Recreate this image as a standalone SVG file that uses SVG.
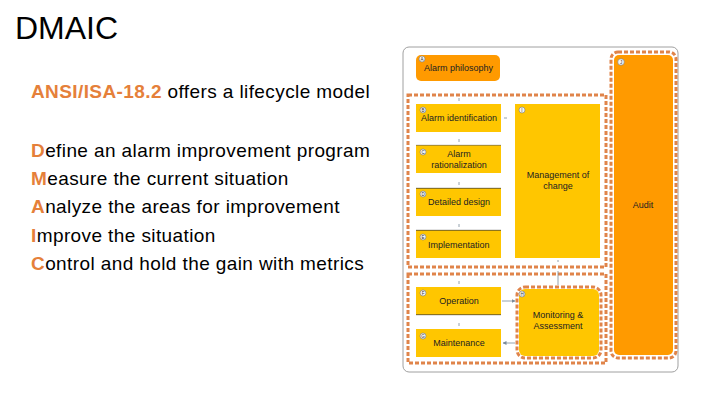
<svg xmlns="http://www.w3.org/2000/svg" width="720" height="405" viewBox="0 0 720 405">
<defs>
<style>
.t{font-family:"Liberation Sans",Arial,sans-serif;}
.big{font-size:19px;letter-spacing:0.4px;fill:#000;}
.hl{fill:#E5803A;font-weight:bold;}
.lbl{font-family:"Liberation Sans",Arial,sans-serif;font-size:9px;fill:#222;}
.ltr{font-family:"Liberation Sans",Arial,sans-serif;font-size:4.5px;fill:#333;text-anchor:middle;}
.yel{fill:#FFC600;}
.org{fill:#FF9A00;}
.dash{fill:none;stroke:#E0844A;stroke-width:3;stroke-dasharray:4 2;}
.circ{fill:#F4F4F4;stroke:#777;stroke-width:0.6;}
.con{stroke:#7A8A99;stroke-width:0.8;fill:none;}
</style>
<marker id="ah" markerWidth="4" markerHeight="4" refX="3.5" refY="2" orient="auto" markerUnits="userSpaceOnUse">
<path d="M0,0 L4,2 L0,4 z" fill="#7A8A99"/>
</marker>
</defs>
<rect width="720" height="405" fill="#fff"/>
<g id="title"><text class="t" x="15" y="39" font-size="32" fill="#000">DMAIC</text></g>
<g id="text-block" class="t">
<text class="big" x="31" y="98"><tspan class="hl">ANSI/ISA-18.2</tspan> offers a lifecycle model</text>
<text class="big" x="31" y="157"><tspan class="hl">D</tspan>efine an alarm improvement program</text>
<text class="big" x="31" y="185"><tspan class="hl">M</tspan>easure the current situation</text>
<text class="big" x="31" y="213"><tspan class="hl">A</tspan>nalyze the areas for improvement</text>
<text class="big" x="31" y="242"><tspan class="hl">I</tspan>mprove the situation</text>
<text class="big" x="31" y="270"><tspan class="hl">C</tspan>ontrol and hold the gain with metrics</text>
</g>
<g id="frame"><rect x="403" y="47" width="275" height="325" rx="6" fill="#fff" stroke="#A0A0A0" stroke-width="1"/></g>
<g id="audit">
<rect class="dash" x="611" y="52" width="65" height="306" rx="7"/>
<rect class="org" x="614" y="55" width="59" height="300" rx="5"/>
<circle class="circ" cx="621" cy="62" r="3.3"/><text class="ltr" x="621" y="63.6">J</text>
<text class="lbl" x="643" y="208" text-anchor="middle">Audit</text>
</g>
<g id="philosophy">
<rect class="org" x="416" y="55" width="84" height="26" rx="5"/>
<circle class="circ" cx="422" cy="59" r="3"/><text class="ltr" x="422" y="60.6">A</text>
<text class="lbl" x="424" y="71">Alarm philosophy</text>
</g>
<g id="group1"><rect class="dash" x="408" y="95" width="198" height="172"/></g>
<g id="group2"><rect class="dash" x="408" y="274" width="198" height="89"/></g>
<g id="identification">
<rect class="yel" x="416" y="104" width="85" height="28"/>
<circle class="circ" cx="423" cy="110" r="3"/><text class="ltr" x="423" y="111.6">B</text>
<text class="lbl" x="421" y="121">Alarm identification</text>
</g>
<g id="rationalization">
<rect class="yel" x="416" y="145" width="85" height="28"/>
<line x1="416" y1="145.3" x2="501" y2="145.3" stroke="#555" stroke-width="0.6"/>
<circle class="circ" cx="423" cy="152" r="3"/><text class="ltr" x="423" y="153.6">C</text>
<text class="lbl" x="459" y="157" text-anchor="middle">Alarm</text>
<text class="lbl" x="459" y="168" text-anchor="middle">rationalization</text>
</g>
<g id="detailed-design">
<rect class="yel" x="416" y="188" width="85" height="28"/>
<line x1="416" y1="188.3" x2="501" y2="188.3" stroke="#333" stroke-width="0.7"/>
<circle class="circ" cx="423" cy="194" r="3"/><text class="ltr" x="423" y="195.6">D</text>
<text class="lbl" x="428" y="205">Detailed design</text>
</g>
<g id="implementation">
<rect class="yel" x="416" y="230" width="85" height="28"/>
<line x1="416" y1="230.3" x2="501" y2="230.3" stroke="#333" stroke-width="0.7"/>
<circle class="circ" cx="423" cy="237" r="3"/><text class="ltr" x="423" y="238.6">E</text>
<text class="lbl" x="428" y="248">Implementation</text>
</g>
<g id="management-of-change">
<rect class="yel" x="515" y="104" width="85" height="154"/>
<circle class="circ" cx="522" cy="110" r="3"/><text class="ltr" x="522" y="111.6">I</text>
<text class="lbl" x="558" y="178" text-anchor="middle">Management of</text>
<text class="lbl" x="558" y="189" text-anchor="middle">change</text>
</g>
<g id="operation">
<rect class="yel" x="416" y="287" width="85" height="28"/>
<line x1="416" y1="314.7" x2="501" y2="314.7" stroke="#333" stroke-width="0.7"/>
<circle class="circ" cx="423" cy="293" r="3"/><text class="ltr" x="423" y="294.6">F</text>
<text class="lbl" x="459" y="304" text-anchor="middle">Operation</text>
</g>
<g id="maintenance">
<rect class="yel" x="416" y="329" width="85" height="28"/>
<circle class="circ" cx="423" cy="336" r="3"/><text class="ltr" x="423" y="337.6">G</text>
<text class="lbl" x="459" y="346" text-anchor="middle">Maintenance</text>
</g>
<g id="monitoring">
<rect class="dash" x="517" y="287" width="84" height="71" rx="8"/>
<rect class="yel" x="519" y="289" width="80" height="67" rx="6"/>
<circle class="circ" cx="522" cy="294" r="3"/><text class="ltr" x="522" y="295.6">H</text>
<text class="lbl" x="558" y="318" text-anchor="middle">Monitoring &amp;</text>
<text class="lbl" x="558" y="329" text-anchor="middle">Assessment</text>
</g>
<g id="connectors">
<line class="con" x1="459" y1="98" x2="459" y2="101"/>
<line class="con" x1="459" y1="139" x2="459" y2="142"/>
<line class="con" x1="459" y1="182" x2="459" y2="185"/>
<line class="con" x1="459" y1="224" x2="459" y2="227"/>
<line class="con" x1="459" y1="281" x2="459" y2="284"/>
<line class="con" x1="459" y1="323" x2="459" y2="326"/>
<line class="con" x1="504" y1="118" x2="507" y2="118"/>
<line class="con" x1="558" y1="260" x2="558" y2="262"/>
<line class="con" x1="558" y1="271" x2="558" y2="285" stroke="#B0B0B0"/>
<line class="con" x1="502" y1="301" x2="515" y2="301" marker-end="url(#ah)"/>
<line class="con" x1="515" y1="343" x2="503" y2="343" marker-end="url(#ah)"/>
</g>
</svg>
